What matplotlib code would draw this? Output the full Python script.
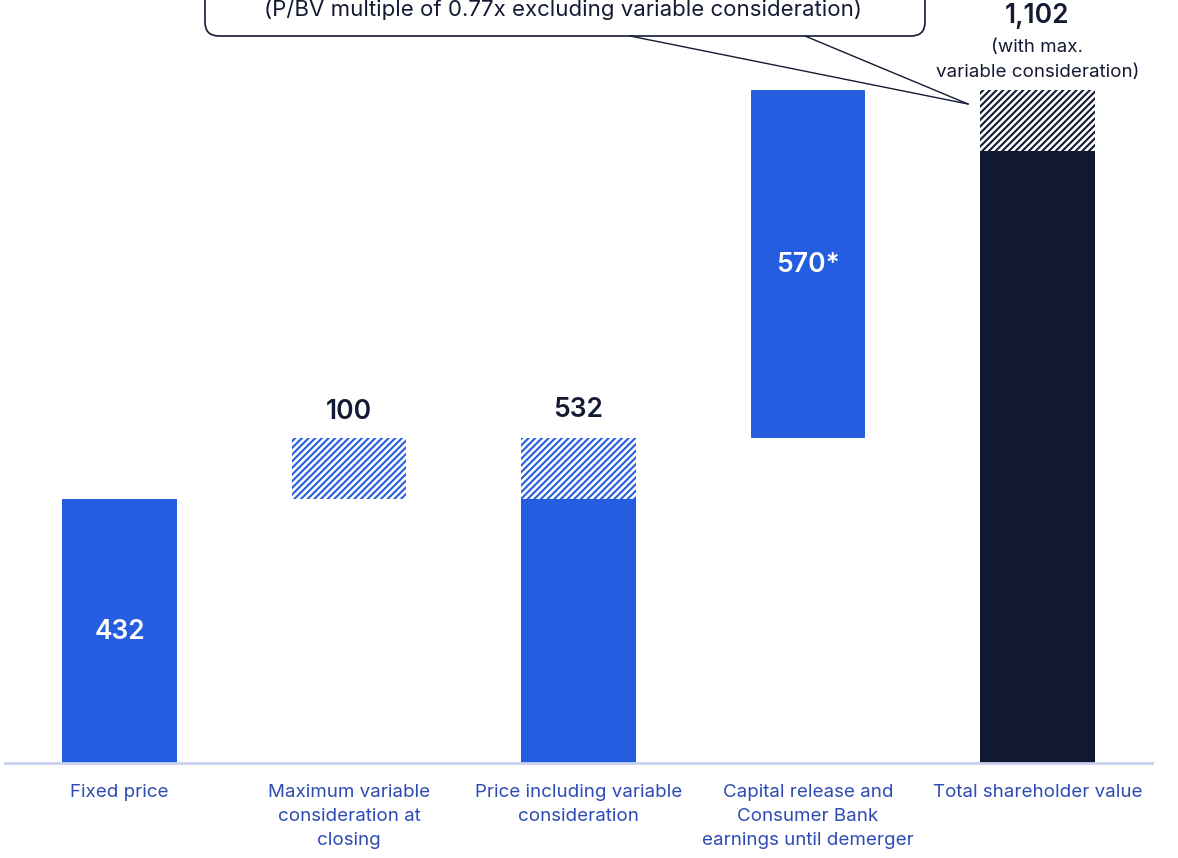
import matplotlib.pyplot as plt
from matplotlib.patches import FancyBboxPatch
import numpy as np

# data
categories = ["Fixed price", "Maximum variable\nconsideration at\nclosing",
              "Price including variable\nconsideration",
              "Capital release and\nConsumer Bank\nearnings until demerger",
              "Total shareholder value"]
solid_bottom = [0, 0, 0, 532, 0]
solid_height = [432, 0, 432, 570, 1002]
hatch_bottom = [0, 432, 432, 0, 1002]
hatch_height = [0, 100, 100, 0, 100]
value_labels = ["432", "100", "532", "570*", "1,102"]
callout_text = "(P/BV multiple of 0.77x excluding variable consideration)"

BLUE = "#255de1"
NAVY = "#111832"
DARK = "#141a33"
TICK = "#2d4bb3"

plt.rcParams['font.family'] = ['Inter', 'DejaVu Sans']
plt.rcParams['hatch.linewidth'] = 1.5

fig = plt.figure(figsize=(11.78, 8.58), dpi=100)
ax = fig.add_axes([5 / 1178, 95 / 858, 1147 / 1178, 763 / 858])
x = np.arange(len(categories))

solid_colors = [BLUE, BLUE, BLUE, BLUE, NAVY]
ax.bar(x, solid_height, bottom=solid_bottom, width=0.5, color=solid_colors, linewidth=0)
for i in x:
    if hatch_height[i] > 0:
        ax.bar(i, hatch_height[i], bottom=hatch_bottom[i], width=0.5, color="white",
               edgecolor=solid_colors[i], hatch="/////", linewidth=0)

ax.set_xlim(-0.5, 4.5)
ax.set_ylim(0, 1249)
for s in ["top", "right", "left"]:
    ax.spines[s].set_visible(False)
ax.spines["bottom"].set_color("#c9d1ee")
ax.spines["bottom"].set_linewidth(2)
ax.set_yticks([])
ax.set_xticks(x)
ax.set_xticklabels(categories, fontsize=13.5, color=TICK, linespacing=1.55, va="top")
ax.tick_params(axis="x", length=0, pad=15)

# value labels
lab = dict(ha="center", va="center", fontsize=19, fontweight="semibold")
ax.text(0, 214, value_labels[0], color="white", **lab)
ax.text(1, 574, value_labels[1], color=DARK, **lab)
ax.text(2, 578, value_labels[2], color=DARK, **lab)
ax.text(3, 815, value_labels[3], color="white", **lab)
ax.text(4, 1222, value_labels[4], color=DARK, **lab)
ax.text(4, 1172, "(with max.", ha="center", va="center", color=DARK, fontsize=13.5)
ax.text(4, 1131, "variable consideration)", ha="center", va="center", color=DARK, fontsize=13.5)

# callout box (partly outside the figure), pixel coords from bottom-left
box = FancyBboxPatch((205, 858 - 36), 720, 80, boxstyle="round,pad=0,rounding_size=14",
                     transform=None, facecolor="white", edgecolor=DARK, linewidth=1.2,
                     clip_on=False)
fig.patches.append(box)
fig.text(563 / 1178, 1 - 9 / 858, callout_text, ha="center", va="center",
         color=DARK, fontsize=16)
for x0 in [630, 805]:
    fig.add_artist(plt.Line2D([x0 / 1178, 968 / 1178], [1 - 36 / 858, 1 - 104 / 858],
                              color=DARK, linewidth=1.0))

fig.savefig("out.png", dpi=100)
